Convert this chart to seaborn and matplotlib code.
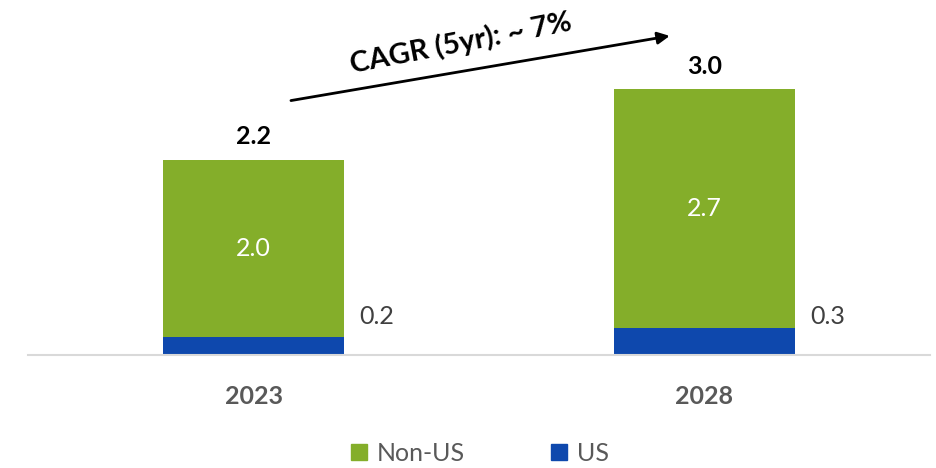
import matplotlib
matplotlib.use("Agg")
import matplotlib.pyplot as plt
import seaborn as sns
import pandas as pd
from matplotlib.lines import Line2D

# datos del grafico
anios = ["2023", "2028"]
non_us = [2.0, 2.7]
us = [0.2, 0.3]
totales = [2.2, 3.0]
cagr_texto = "CAGR (5yr): ~ 7%"

VERDE = "#84AE2A"
AZUL = "#0E48AD"
GRIS = "#595959"

sns.set_theme(style="white")
plt.rcParams["font.family"] = ["Lato", "DejaVu Sans"]

df = pd.DataFrame({"Año": anios, "Non-US": non_us, "US": us, "Total": totales})

fig = plt.figure(figsize=(9.36, 4.68), dpi=100)
ax = fig.add_axes([28 / 936, 113.5 / 468, 902 / 936, 354.5 / 468])

# barra total (verde) y encima la parte US (azul)
sns.barplot(data=df, x="Año", y="Total", color=VERDE, width=0.4, saturation=1,
            linewidth=0, ax=ax)
sns.barplot(data=df, x="Año", y="US", color=AZUL, width=0.4, saturation=1,
            linewidth=0, ax=ax)

ax.set_xlim(-0.5, 1.5)
ax.set_ylim(0, 4.0)
ax.set_xlabel("")
ax.set_ylabel("")
ax.set_yticks([])
for lado in ["top", "right", "left"]:
    ax.spines[lado].set_visible(False)
ax.spines["bottom"].set_color("#D9D9D9")
ax.spines["bottom"].set_linewidth(1.5)
ax.tick_params(axis="x", length=0, pad=22, labelsize=18, labelcolor=GRIS)
for t in ax.get_xticklabels():
    t.set_fontweight("bold")

# etiquetas de valores
for i in range(len(anios)):
    ax.annotate(f"{totales[i]:.1f}", (i, totales[i]), xytext=(0, 8), textcoords="offset points",
                ha="center", va="bottom", fontsize=18, fontweight="bold", color="black")
    ax.text(i, us[i] + non_us[i] / 2, f"{non_us[i]:.1f}", ha="center", va="center",
            fontsize=18, color="white")
    ax.annotate(f"{us[i]:.1f}", (i + 0.2, 0.43), xytext=(11, 0), textcoords="offset points",
                ha="left", va="center", fontsize=18, color="#404040")

# flecha CAGR
ax.annotate("", xy=(0.929, 3.60), xytext=(0.077, 2.86),
            arrowprops=dict(arrowstyle="-|>", color="black", lw=2, mutation_scale=18))
ax.text(0.46, 3.52, cagr_texto, rotation=11, ha="center", va="center",
        fontsize=21, fontweight="bold", color="black")

# leyenda
handles = [
    Line2D([], [], marker="s", linestyle="none", markersize=11, color=VERDE, label="Non-US"),
    Line2D([], [], marker="s", linestyle="none", markersize=11, color=AZUL, label="US"),
]
fig.legend(handles=handles, loc="center", bbox_to_anchor=(0.509, 0.032), ncol=2,
           frameon=False, fontsize=18, labelcolor=GRIS, handletextpad=0.1,
           columnspacing=3.2, handlelength=1.2)

plt.savefig("out.png", dpi=100)
